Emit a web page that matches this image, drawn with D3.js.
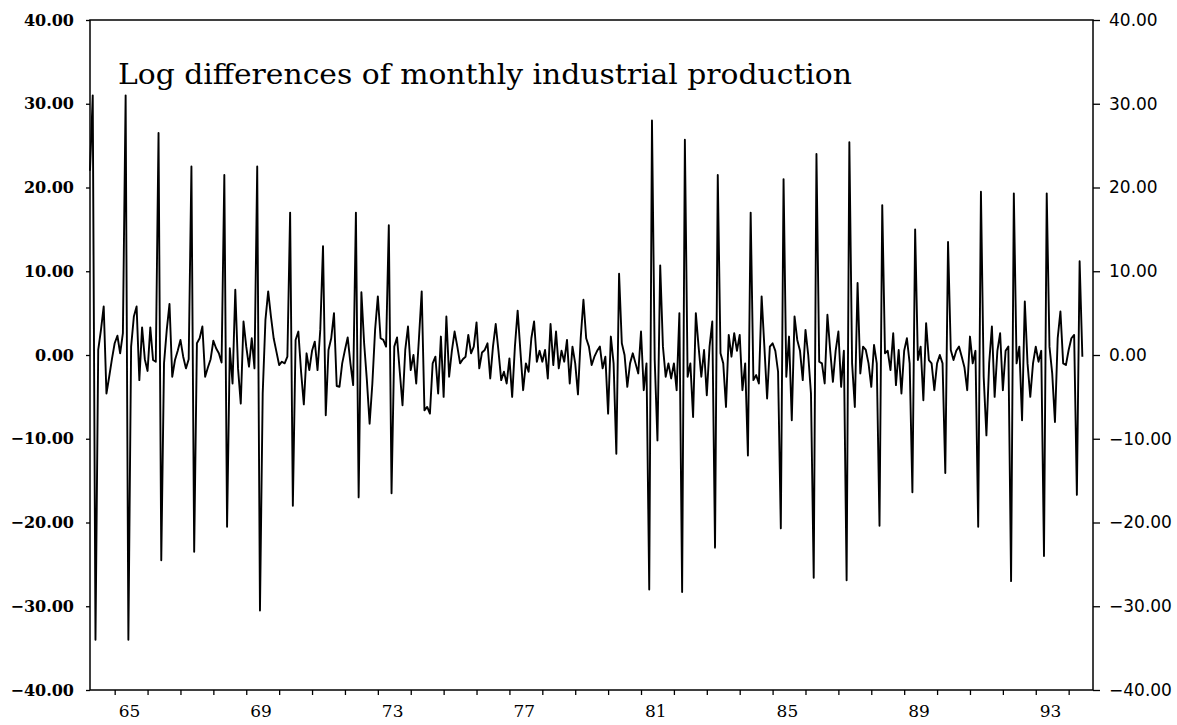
<!DOCTYPE html>
<html>
<head>
<meta charset="utf-8">
<script src="https://cdn.jsdelivr.net/npm/d3@7"></script>
<style>
  body { margin: 0; background: #fff; }
  svg { display: block; }
</style>
</head>
<body>
<div id="chart"></div>
<script>
// Log differences of monthly industrial production, Apr 1964 - mid 1994

const startYear = 1964;
const startMonth = 3; // April, zero based

// monthly values, one row per 12 months starting at startMonth
const values = [
  22, 31, -34, 0.6, 3, 5.8, -4.6, -2.6, -0.5, 1.4, 2.3, 0.2,
  2.6, 31, -34, 1, 4.6, 5.8, -3, 3.3, -0.5, -1.9, 3.3, -0.6,
  -0.8, 26.5, -24.5, -1, 3, 6.1, -2.6, -0.6, 0.5, 1.8, -0.2, -1.6,
  -0.5, 22.5, -23.5, 1.4, 2, 3.4, -2.6, -1.5, -0.5, 1.7, 0.8, 0.2,
  -0.9, 21.5, -20.5, 0.8, -3.4, 7.8, -1.6, -5.8, 4, 1, -1.4, 2,
  -1.6, 22.5, -30.5, -4.6, 4.2, 7.6, 4.6, 2, 0.4, -1.2, -0.8, -1,
  -0.2, 17, -18, 1.8, 2.8, -2, -5.9, 0.2, -1.8, 0.5, 1.6, -1.8,
  3, 13, -7.2, 0.6, 2, 5, -3.7, -3.8, -1, 0.6, 2.1, -1,
  -3.6, 17, -17, 7.5, 1.4, -3, -8.2, -3.4, 3, 7, 2, 1.8,
  1, 15.5, -16.5, 1, 2.1, -2, -6, 0.6, 3.4, -1.8, 0, -3.4,
  2, 7.6, -6.6, -6.2, -7, -1, -0.2, -4.6, 2.2, -5, 4.6, -2.6,
  0.5, 2.8, 1, -1, -0.5, -0.2, 2.4, 0.2, 1, 3.9, -1.6, 0.3,
  0.6, 1.4, -2.8, 1, 3.7, 0.5, -3, -2, -3.4, -0.4, -5, 1,
  5.3, 0.5, -4.2, -1, -2, 2, 4, -0.8, 0.5, -0.8, 0.6, -2.8,
  3.7, -1.2, 2.8, -1.6, 0.5, -0.8, 1.8, -3.4, 1, -1, -4.7, 2,
  6.6, 2, 1, -1.2, -0.2, 0.5, 1, -1.6, -0.2, -7, 2.2, -1,
  -11.8, 9.7, 1.4, 0, -3.8, -1, 0.2, -1, -2.2, 2.8, -4.2, -1,
  -28, 28, -0.6, -10.2, 10.7, 1, -2.6, -1, -2.8, -1, -4.2, 5,
  -28.3, 25.7, -2.6, -1, -7.4, 5, 1, -2.6, 0.6, -4.8, 1, 4,
  -23, 21.5, 0.2, -1, -6.2, 2.4, -0.2, 2.6, 0.5, 2.4, -4.2, -1,
  -12, 17, -3, -2.4, -3.4, 7, 1, -5.2, 1, 1.4, 0.5, -2,
  -20.7, 21, -2.6, 2.2, -7.8, 4.6, 1.8, 0.5, -3, 3, 0, -4.6,
  -26.6, 24, -0.8, -1, -3.4, 4.8, 0.6, -3.2, 0.5, 2.8, -3.8, 0.5,
  -26.9, 25.4, -1, -6.2, 8.6, -2.2, 1, 0.6, -1, -3.8, 1.2, -1,
  -20.4, 17.9, 0.2, 0.5, -1.8, 2.6, -3.6, 0.6, -4.6, 0.5, 2, -1,
  -16.4, 15, -0.6, 1, -5.4, 3.8, -0.6, -1, -4.2, -1, 0, -1,
  -14.1, 13.5, 0.6, -0.6, 0.5, 1, -0.2, -1.5, -4.2, 2.2, -1, 0.5,
  -20.5, 19.5, -2.6, -9.6, -1, 3.4, -5, 0.5, 2.6, -4.2, 0.5, 1,
  -27, 19.3, -1, 1, -7.8, 6.4, -1, -5, -1, 1, -0.8, 0.5,
  -24, 19.3, 1, -2.2, -8, 2, 5.2, -1, -1.2, 0.6, 2, 2.4,
  -16.7, 11.2, -0.2
];

const yTicks = [40, 30, 20, 10, 0, -10, -20, -30, -40];
const yearTicks = d3.range(1965, 1995);
const yearLabels = [65, 69, 73, 77, 81, 85, 89, 93];
const title = "Log differences of monthly industrial production";

const width = 1177;
const height = 725;
const margin = { top: 20, right: 84, bottom: 35, left: 90 };

const svg = d3.select("#chart")
  .append("svg")
  .attr("width", width)
  .attr("height", height);

// x in decimal years, y in percent
const x = d3.scaleLinear()
  .domain([1964.25, 1994.74])
  .range([margin.left, width - margin.right]);

const y = d3.scaleLinear()
  .domain([-40, 40])
  .range([height - margin.bottom, margin.top]);

const fmt = d3.format(".2f");

// left axis
const leftAxis = svg.append("g")
  .attr("transform", `translate(${margin.left},0)`)
  .call(d3.axisLeft(y).tickValues(yTicks).tickSize(4).tickPadding(12).tickFormat(fmt));
leftAxis.select(".domain").remove();
leftAxis.selectAll("line").attr("stroke", "#000").attr("stroke-width", 1.3);
leftAxis.selectAll("text")
  .attr("fill", "#000")
  .style("font-family", "'DejaVu Serif', serif")
  .style("font-weight", "bold")
  .style("font-size", "16px");

// right axis
const rightAxis = svg.append("g")
  .attr("transform", `translate(${width - margin.right},0)`)
  .call(d3.axisRight(y).tickValues(yTicks).tickSize(7).tickPadding(9).tickFormat(fmt));
rightAxis.select(".domain").remove();
rightAxis.selectAll("line").attr("stroke", "#000").attr("stroke-width", 1.3);
rightAxis.selectAll("text")
  .attr("fill", "#000")
  .style("font-family", "'DejaVu Sans', sans-serif")
  .style("font-size", "17px");

// bottom axis: ticks at year starts, labels at mid year
const bottomAxis = svg.append("g")
  .attr("transform", `translate(0,${height - margin.bottom})`)
  .call(d3.axisBottom(x).tickValues(yearTicks).tickSize(5).tickFormat(""));
bottomAxis.select(".domain").remove();
bottomAxis.selectAll("line").attr("stroke", "#000").attr("stroke-width", 1.3);

svg.append("g")
  .selectAll("text")
  .data(yearLabels)
  .enter()
  .append("text")
  .attr("x", d => x(1900 + d + 0.45))
  .attr("y", height - margin.bottom + 27)
  .attr("text-anchor", "middle")
  .style("font-family", "'DejaVu Serif', serif")
  .style("font-size", "17px")
  .text(d => d);

// frame
svg.append("rect")
  .attr("x", margin.left)
  .attr("y", margin.top)
  .attr("width", width - margin.left - margin.right)
  .attr("height", height - margin.top - margin.bottom)
  .attr("fill", "none")
  .attr("stroke", "#000")
  .attr("stroke-width", 1.5);

// series
const line = d3.line()
  .x((d, i) => x(startYear + (startMonth + i) / 12))
  .y(d => y(d));

svg.append("path")
  .datum(values)
  .attr("d", line)
  .attr("fill", "none")
  .attr("stroke", "#000")
  .attr("stroke-width", 1.9)
  .attr("stroke-linejoin", "round");

// title
svg.append("text")
  .attr("x", 118)
  .attr("y", 84)
  .attr("textLength", 734)
  .attr("lengthAdjust", "spacingAndGlyphs")
  .style("font-family", "'DejaVu Serif', serif")
  .style("font-size", "27px")
  .text(title);
</script>
</body>
</html>
